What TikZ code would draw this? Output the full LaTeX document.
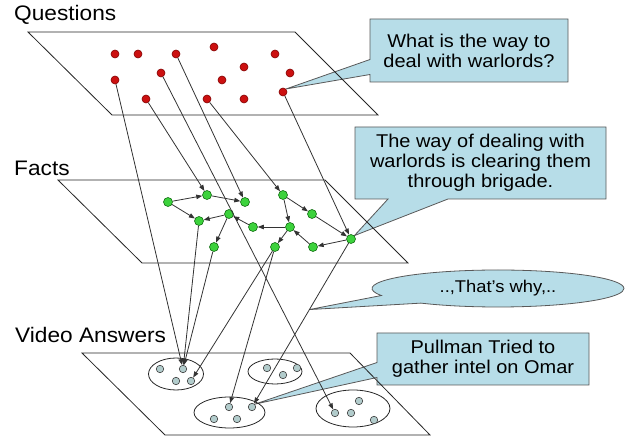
\documentclass[tikz,border=0pt]{standalone}
\usepackage{fontspec}
\setmainfont[FakeStretch=1.08]{Liberation Sans}
\usetikzlibrary{positioning, arrows.meta, calc, backgrounds, shapes.geometric, shapes.callouts}

\definecolor{notefill}{RGB}{183,221,232}
\definecolor{qred}{RGB}{204,16,16}
\definecolor{qredline}{RGB}{130,0,0}
\definecolor{fgreen}{RGB}{60,210,60}
\definecolor{fgreenline}{RGB}{20,110,20}
\definecolor{vgray}{RGB}{178,204,204}

\begin{document}
\begin{tikzpicture}[
        x=1pt, y=-1pt, >={Triangle[length=6pt, width=4.5pt]},
        qdot/.style={circle, fill=qred, draw=qredline, line width=0.6pt, minimum size=8pt, inner sep=0pt},
        fdot/.style={circle, fill=fgreen, draw=fgreenline, line width=0.6pt, minimum size=9pt, inner sep=0pt},
        vdot/.style={circle, fill=vgray, draw=black!75, line width=0.6pt, minimum size=7.5pt, inner sep=0pt},
        group/.style={ellipse, draw=black!85, line width=0.8pt, inner sep=0pt},
        plane/.style={draw=black!85, line width=0.8pt},
        link/.style={->, draw=black!80, line width=0.8pt},
        layer/.style={anchor=base west, inner sep=0pt, font=\fontsize{21}{24}\selectfont},
        note/.style={rectangle callout, fill=notefill, draw=black!65, line width=0.8pt, align=center,
                     inner sep=0pt, font=\fontsize{18.5}{20}\selectfont}
    ]
        \useasboundingbox (0,0) rectangle (625,438);

        % --- LAYER PLANES & HEADERS ---
        \draw[plane] (28,32) -- (295,32) -- (378,115) -- (112,115) -- cycle;
        \draw[plane] (58,180) -- (325,180) -- (408,263) -- (142,263) -- cycle;
        \draw[plane] (82,353) -- (350,353) -- (430,435) -- (165,435) -- cycle;
        \node[layer] (questions) at (14,21) {Questions};
        \node[layer] (facts) at (14,176) {Facts};
        \node[layer] (answers) at (15,343) {Video Answers};

        % --- QUESTIONS ---
        \node[qdot] (q1) at (115,54) {};  \node[qdot] (q2) at (138,54) {};
        \node[qdot] (q3) at (176,54) {};  \node[qdot] (q4) at (214,47) {};
        \node[qdot] (q5) at (275,54) {};  \node[qdot] (q6) at (161,73) {};
        \node[qdot] (q7) at (244,67) {};  \node[qdot] (q8) at (290,73) {};
        \node[qdot] (q9) at (115,80) {};  \node[qdot] (q10) at (222,80) {};
        \node[qdot] (q11) at (146,99) {}; \node[qdot] (q12) at (207,99) {};
        \node[qdot] (q13) at (244,99) {}; \node[qdot] (q14) at (283,92) {};

        % --- FACTS ---
        \node[fdot] (fa) at (168,202) {};
        \node[fdot] (fb) at (207,195) {};
        \node[fdot] (fc) at (245,202) {};
        \node[fdot] (fd) at (199,221) {};
        \node[fdot] (fe) at (229,214) {};
        \node[fdot] (ff) at (214,247) {};
        \node[fdot] (fg) at (253,227) {};
        \node[fdot] (fh) at (283,195) {};
        \node[fdot] (fi) at (312,214) {};
        \node[fdot] (fj) at (290,227) {};
        \node[fdot] (fk) at (275,247) {};
        \node[fdot] (fl) at (313,247) {};
        \node[fdot] (fm) at (351,239) {};

        % --- VIDEO ANSWERS ---
        \node[group, minimum width=55pt, minimum height=32pt] (g1) at (176,374) {};
        \node[vdot] (v11) at (160,369) {}; \node[vdot] (v12) at (183,369) {};
        \node[vdot] (v13) at (176,381) {}; \node[vdot] (v14) at (191,381) {};

        \node[group, minimum width=54pt, minimum height=25pt] (g2) at (275,371.5) {};
        \node[vdot] (v21) at (267,368) {}; \node[vdot] (v22) at (283,375) {};
        \node[vdot] (v23) at (297,368) {};

        \node[group, minimum width=71pt, minimum height=31pt] (g3) at (229.5,412.5) {};
        \node[vdot] (v31) at (229,407) {}; \node[vdot] (v32) at (252,407) {};
        \node[vdot] (v33) at (214,419) {}; \node[vdot] (v34) at (237,419) {};

        \node[group, minimum width=74pt, minimum height=37pt] (g4) at (353,408.5) {};
        \node[vdot] (v41) at (335,413) {}; \node[vdot] (v42) at (351,413) {};
        \node[vdot] (v43) at (359,401) {}; \node[vdot] (v44) at (374,420) {};

        % --- CONNECTIONS ---
        % Questions down to facts / answers
        \draw[link] (q9) -- (v12);
        \draw[link] (q11) -- (fb);
        \draw[link] (q6) -- (v41);
        \draw[link] (q3) -- (fc);
        \draw[link] (q12) -- (fh);
        \draw[link] (q14) -- (fm);

        % Fact chains
        \draw[link] (fa) -- (fb);
        \draw[link] (fb) -- (fc);
        \draw[link] (fa) -- (fd);
        \draw[link] (fe) -- (fd);
        \draw[link] (fe) -- (ff);
        \draw[link] (fg) -- (fe);
        \draw[link] (fh) -- (fj);
        \draw[link] (fh) -- (fi);
        \draw[link] (fi) -- (fm);
        \draw[link] (fm) -- (fl);
        \draw[link] (fl) -- (fj);
        \draw[link] (fj) -- (fg);
        \draw[link] (fj) -- (fk);

        % Facts down to answers
        \draw[link] (fd) -- (v12);
        \draw[link] (ff) -- (v12);
        \draw[link] (fk) -- (v14);
        \draw[link] (fk) -- (v31);
        \draw[link] (fm) -- (v32);
        \coordinate (why) at ($(fm)!0.42!(v32)$);

        % --- CALLOUTS ---
        \begin{scope}[on background layer]
            \node[note, minimum width=198pt, minimum height=63pt, callout pointer width=15pt,
                  callout absolute pointer={(q14.north east)}] (ask) at (469,50.5)
                  {What is the way to\\deal with warlords?};
            \node[note, minimum width=251pt, minimum height=72pt, callout pointer width=60pt,
                  callout absolute pointer={(fm.north east)}] (fact) at (480.5,163)
                  {The way of dealing with\\warlords is clearing them\\through brigade.};
            \node[note, ellipse callout, minimum width=252pt, minimum height=37pt, callout pointer arc=30,
                  font=\fontsize{17}{20}\selectfont, callout absolute pointer={(why)}] (reason) at (498,288.5)
                  {..,That’s why,..};
            \node[note, minimum width=212pt, minimum height=52pt, callout pointer width=15pt,
                  callout absolute pointer={(v32.north east)}] (video) at (483,359)
                  {Pullman Tried to\\gather intel on Omar};
        \end{scope}

    \end{tikzpicture}
\end{document}
